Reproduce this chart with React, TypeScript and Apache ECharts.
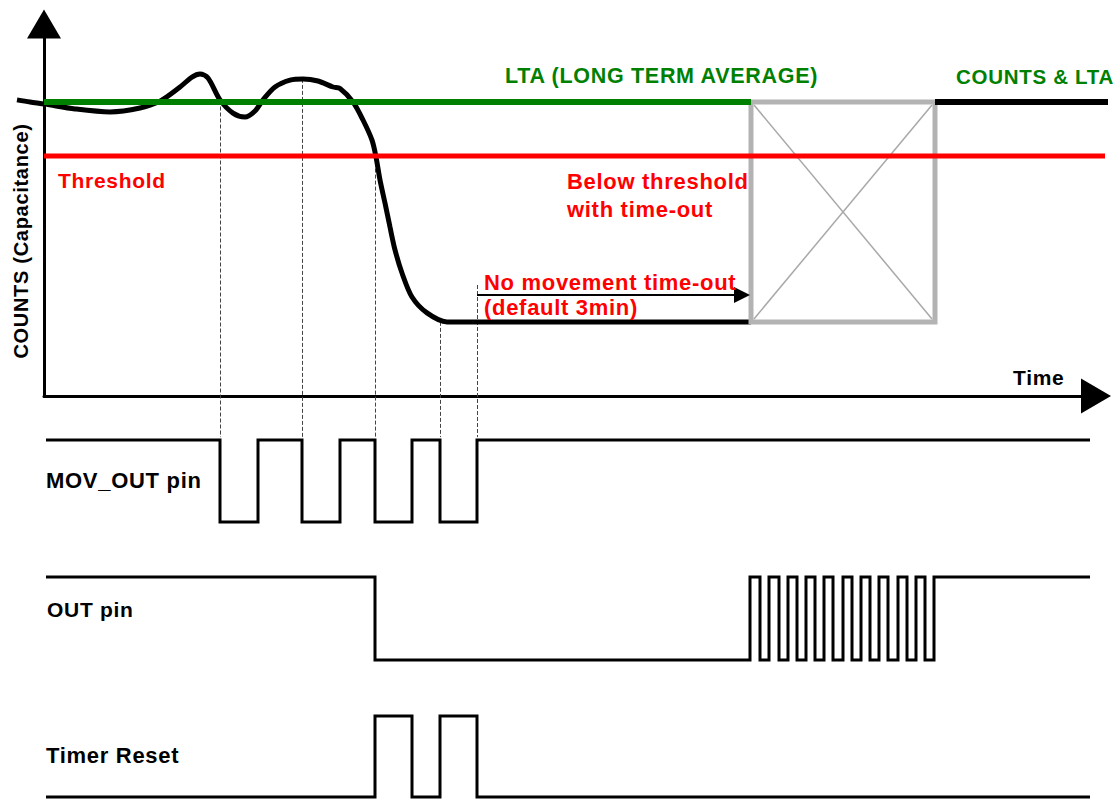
import React, { useEffect, useRef } from "react";
import * as echarts from "echarts";

// ---- Data (time in arbitrary units, counts in arbitrary units) ----
const T_MIN = 0;
const T_MAX = 105.2;
// full-width overlay range (same scale) for marks drawn beyond the axes
const T_FULL_MIN = -4.4;
const T_FULL_MAX = 107.6;
const COUNTS_MIN = 0;
const COUNTS_MAX = 124;

const LTA_LEVEL = 98;
const THRESHOLD_LEVEL = 80;

// COUNTS (capacitance) curve: [time, counts]
const countsCurve: number[][] = [
  [-2.7, 98.7], [-1.4, 98.0], [0.1, 97.3], [3.1, 95.7], [6.6, 94.7],
  [9.6, 96.0], [11.6, 98.3], [13.6, 103.0], [14.8, 106.3], [15.6, 107.3],
  [16.4, 106.0], [17.6, 98.7], [18.9, 94.3], [20.1, 93.0], [21.1, 95.0],
  [21.9, 98.7], [23.1, 103.0], [24.6, 105.3], [25.9, 105.7], [27.4, 105.0],
  [28.9, 103.0], [29.6, 102.5], [30.9, 98.0], [31.9, 92.0], [32.8, 85.3],
  [33.2, 79.7], [33.6, 72.0], [34.1, 64.3], [34.6, 56.3], [35.1, 48.7],
  [35.8, 41.0], [36.8, 33.0], [38.3, 27.7], [40.3, 24.7], [43.3, 24.7],
  [70.7, 24.7],
];

const ltaSpan = [0, 70.7];
const countsLtaSpan = [89.1, 106.4];
const thresholdSpan = [0, 106.1];

// time-out box: [start, top, end, bottom]
const timeoutBox = [70.7, 98, 89.1, 24.7];

// vertical dashed markers
const markerTimes = [17.6, 25.8, 33.1, 39.6, 43.3];
const markerTop = [98.5, 105.7, 79.8, 24.7, 37.0];
const markerBottom = -13.7;

// "No movement time-out" arrow
const timeoutArrow = { from: 43.3, to: 69.8, level: 33.7 };

// digital signals: initial level and transition times
const SIGNAL_START = 0.2;
const SIGNAL_END = 104.6;
const movOutInit = 1;
const movOutEdges = [17.6, 21.4, 25.8, 29.6, 33.1, 36.8, 39.6, 43.3];
const outInit = 1;
const outEdges = [
  33.1, 70.6, 71.6, 72.5, 73.5, 74.4, 75.3, 76.2, 77.1, 78.0, 78.9,
  79.9, 80.8, 81.7, 82.6, 83.5, 84.4, 85.4, 86.3, 87.2, 88.1, 89.0,
];
const timerInit = 0;
const timerEdges = [33.1, 36.8, 39.6, 43.3];

const GREEN = "#008000";
const RED = "#ff0000";
const FONT = "'Liberation Sans', Arial, Helvetica, sans-serif";

function buildSignal(init: number, edges: number[]): number[][] {
  const pts: number[][] = [[SIGNAL_START, init]];
  let level = init;
  for (const e of edges) {
    pts.push([e, level]);
    level = 1 - level;
    pts.push([e, level]);
  }
  pts.push([SIGNAL_END, level]);
  return pts;
}

function txt(
  text: string,
  x: number,
  y: number,
  color: string,
  size = 22,
  extra: any = {}
) {
  return {
    type: "text",
    x,
    y,
    silent: true,
    z: 10,
    ...extra,
    style: {
      text,
      fill: color,
      fontSize: size,
      fontWeight: "bold",
      fontFamily: FONT,
      align: extra.align || "left",
      verticalAlign: "middle",
    },
  };
}

const OV = 4; // overlay axis index

export default function App() {
  const ref = useRef<HTMLDivElement>(null);

  useEffect(() => {
    if (!ref.current) return;
    const chart = echarts.init(ref.current, null, { renderer: "svg" });

    const hiddenX = (gridIndex: number, min = T_MIN, max = T_MAX) => ({
      type: "value",
      gridIndex,
      min,
      max,
      show: false,
    });
    const hiddenY = (gridIndex: number, min = 0, max = 1) => ({
      type: "value",
      gridIndex,
      min,
      max,
      show: false,
    });

    const digital = (idx: number, data: number[][]) => ({
      type: "line",
      xAxisIndex: idx,
      yAxisIndex: idx,
      data,
      symbol: "none",
      clip: false,
      lineStyle: { color: "#000", width: 3, join: "miter", cap: "butt" },
      silent: true,
    });

    const flat = (span: number[], level: number, color: string, width: number, z: number) => ({
      type: "line",
      xAxisIndex: OV,
      yAxisIndex: OV,
      data: span.map((t) => [t, level]),
      symbol: "none",
      clip: false,
      z,
      silent: true,
      lineStyle: { color, width, cap: "butt" },
    });

    chart.setOption({
      animation: false,
      backgroundColor: "#ffffff",
      grid: [
        { left: 44, right: 24, top: 24, height: 372 },
        { left: 44, right: 24, top: 440, height: 82 },
        { left: 44, right: 24, top: 577, height: 83 },
        { left: 44, right: 24, top: 716, height: 81 },
        { left: 0, right: 0, top: 24, height: 372 },
      ],
      xAxis: [
        {
          type: "value",
          gridIndex: 0,
          min: T_MIN,
          max: T_MAX,
          axisLine: {
            show: true,
            symbol: ["none", "triangle"],
            symbolSize: [35, 30],
            lineStyle: { color: "#000", width: 3 },
          },
          axisTick: { show: false },
          axisLabel: { show: false },
          splitLine: { show: false },
        },
        hiddenX(1),
        hiddenX(2),
        hiddenX(3),
        hiddenX(4, T_FULL_MIN, T_FULL_MAX),
      ],
      yAxis: [
        {
          type: "value",
          gridIndex: 0,
          min: COUNTS_MIN,
          max: COUNTS_MAX,
          axisLine: {
            show: true,
            symbol: ["none", "triangle"],
            symbolSize: [34, 29],
            lineStyle: { color: "#000", width: 3 },
          },
          axisTick: { show: false },
          axisLabel: { show: false },
          splitLine: { show: false },
        },
        hiddenY(1),
        hiddenY(2),
        hiddenY(3),
        hiddenY(4, COUNTS_MIN, COUNTS_MAX),
      ],
      series: [
        {
          type: "lines",
          coordinateSystem: "cartesian2d",
          xAxisIndex: OV,
          yAxisIndex: OV,
          clip: false,
          z: 1,
          silent: true,
          lineStyle: { color: "#444", width: 1, type: [4, 2], opacity: 1 },
          data: markerTimes.map((t, i) => ({
            coords: [
              [t, markerTop[i]],
              [t, markerBottom],
            ],
          })),
        },
        {
          type: "line",
          xAxisIndex: OV,
          yAxisIndex: OV,
          data: countsCurve,
          smooth: 0.3,
          symbol: "none",
          clip: false,
          z: 2,
          silent: true,
          lineStyle: { color: "#000", width: 5 },
        },
        {
          type: "custom",
          coordinateSystem: "cartesian2d",
          xAxisIndex: OV,
          yAxisIndex: OV,
          clip: false,
          z: 3,
          silent: true,
          data: [timeoutBox],
          renderItem: (params: any, api: any) => {
            const p1 = api.coord([api.value(0), api.value(1)]);
            const p2 = api.coord([api.value(2), api.value(3)]);
            const inset = 3;
            return {
              type: "group",
              children: [
                {
                  type: "line",
                  shape: {
                    x1: p1[0] + inset,
                    y1: p1[1] + inset,
                    x2: p2[0] - inset,
                    y2: p2[1] - inset,
                  },
                  style: { stroke: "#a8a8a8", lineWidth: 1.5 },
                },
                {
                  type: "line",
                  shape: {
                    x1: p1[0] + inset,
                    y1: p2[1] - inset,
                    x2: p2[0] - inset,
                    y2: p1[1] + inset,
                  },
                  style: { stroke: "#a8a8a8", lineWidth: 1.5 },
                },
                {
                  type: "rect",
                  shape: {
                    x: p1[0],
                    y: p1[1],
                    width: p2[0] - p1[0],
                    height: p2[1] - p1[1],
                  },
                  style: { fill: "none", stroke: "#b3b3b3", lineWidth: 5, lineJoin: "miter" },
                },
              ],
            };
          },
        },
        flat(ltaSpan, LTA_LEVEL, GREEN, 6, 4),
        flat(countsLtaSpan, LTA_LEVEL, "#000", 6, 4),
        flat(thresholdSpan, THRESHOLD_LEVEL, RED, 5, 5),
        {
          type: "lines",
          coordinateSystem: "cartesian2d",
          xAxisIndex: OV,
          yAxisIndex: OV,
          clip: false,
          z: 4,
          silent: true,
          symbol: ["none", "triangle"],
          symbolSize: 16,
          lineStyle: { color: "#000", width: 2, opacity: 1 },
          data: [
            {
              coords: [
                [timeoutArrow.from, timeoutArrow.level],
                [timeoutArrow.to, timeoutArrow.level],
              ],
            },
          ],
        },
        digital(1, buildSignal(movOutInit, movOutEdges)),
        digital(2, buildSignal(outInit, outEdges)),
        digital(3, buildSignal(timerInit, timerEdges)),
      ],
      graphic: [
        txt("LTA (LONG TERM AVERAGE)", 505, 76, GREEN, 21.5),
        txt("COUNTS & LTA", 1114, 76, GREEN, 20.5, { align: "right" }),
        txt("Threshold", 58, 180, RED, 21),
        txt("Below threshold", 567, 181, RED),
        txt("with time-out", 567, 209.5, RED),
        txt("No movement time-out", 484, 282.5, RED),
        txt("(default 3min)", 484, 307.5, RED),
        txt("Time", 1013, 377, "#000", 21),
        txt("MOV_OUT pin", 46, 480, "#000"),
        txt("OUT pin", 47, 609, "#000", 21),
        txt("Timer Reset", 46, 755, "#000"),
        txt("COUNTS (Capacitance)", 21, 241, "#000", 20, {
          align: "center",
          rotation: Math.PI / 2,
        }),
      ],
    });

    return () => {
      chart.dispose();
    };
  }, []);

  return (
    <>
      <style>{".timing-chart text{letter-spacing:0.7px}"}</style>
      <div
        ref={ref}
        className="timing-chart"
        style={{
          position: "fixed",
          left: 0,
          top: 0,
          width: 1120,
          height: 799,
          background: "#fff",
        }}
      />
    </>
  );
}
